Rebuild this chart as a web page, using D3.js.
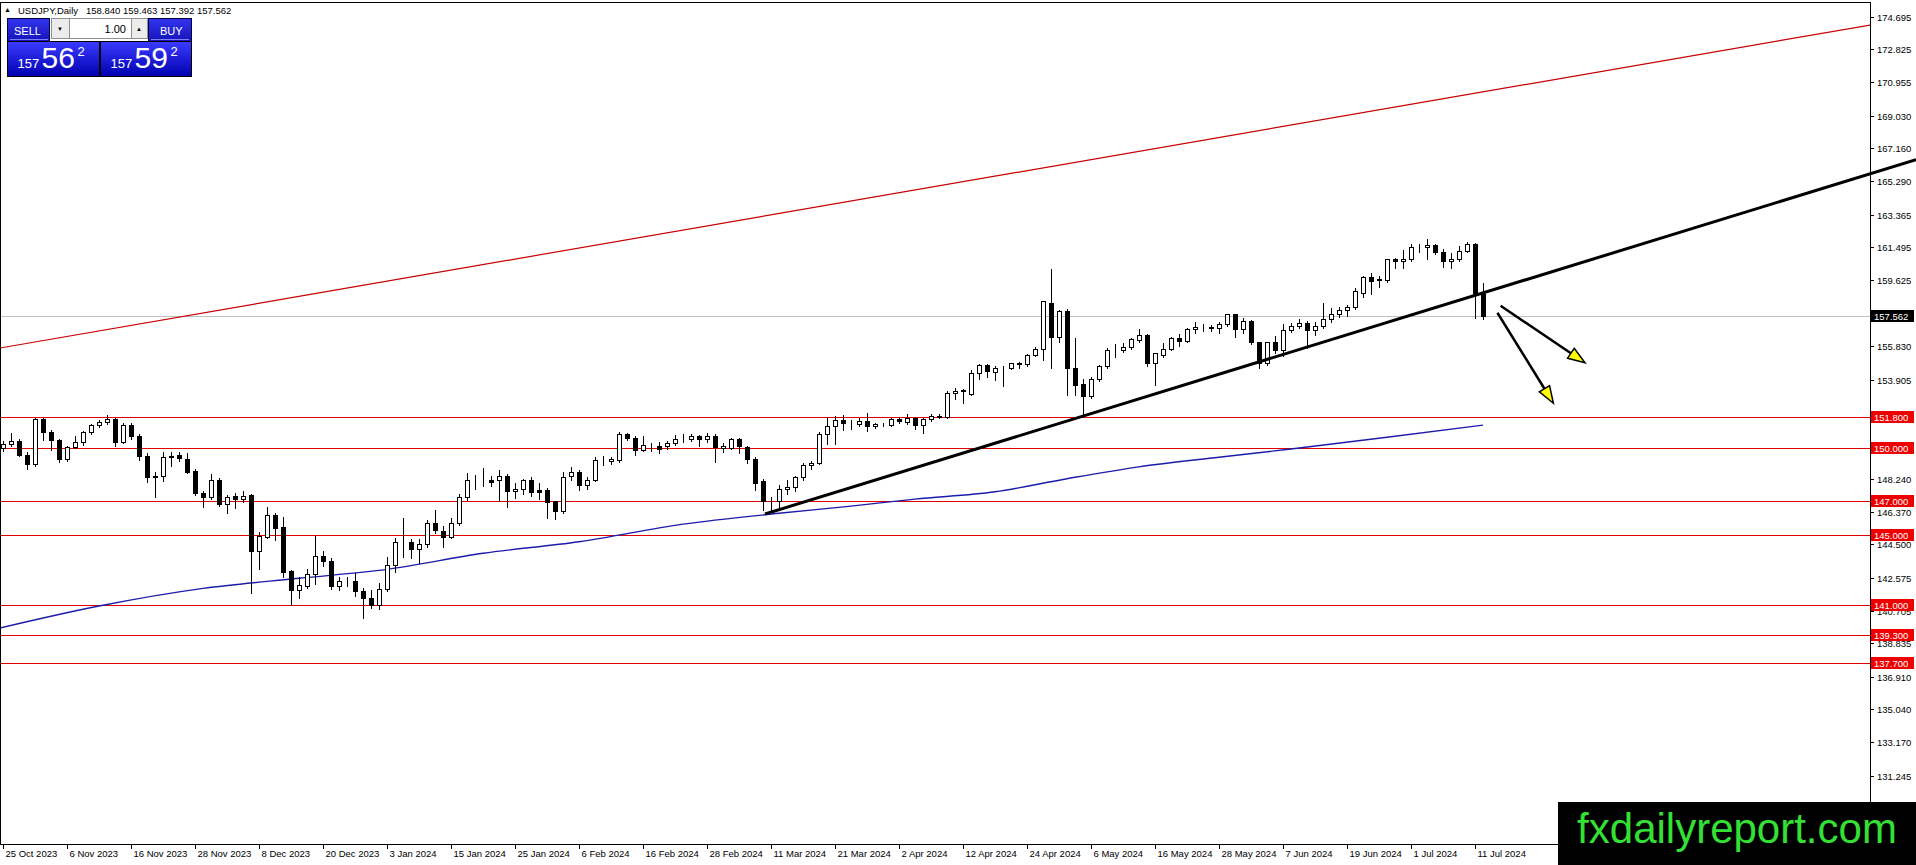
<!DOCTYPE html>
<html>
<head>
<meta charset="utf-8">
<title>USDJPY Daily</title>
<script src="https://cdn.jsdelivr.net/npm/d3@7"></script>
<style>
body { margin: 0; background: #fff; overflow: hidden; }
svg { display: block; }
text { font-family: "Liberation Sans", Arial, sans-serif; }
</style>
</head>
<body>
<div id="chart"></div>
<script>
// ---- data ----
var symbol = "USDJPY,Daily"
var lastOHLC = ["158.840", "159.463", "157.392", "157.562"]

// one x label every 8 bars, first one on bar 0
var tickLabels = ["25 Oct 2023","6 Nov 2023","16 Nov 2023","28 Nov 2023","8 Dec 2023","20 Dec 2023",
  "3 Jan 2024","15 Jan 2024","25 Jan 2024","6 Feb 2024","16 Feb 2024","28 Feb 2024","11 Mar 2024",
  "21 Mar 2024","2 Apr 2024","12 Apr 2024","24 Apr 2024","6 May 2024","16 May 2024","28 May 2024",
  "7 Jun 2024","19 Jun 2024","1 Jul 2024","11 Jul 2024"]
var tickEvery = 8

var opens = [150.00,150.22,150.40,149.60,149.08,151.68,150.95,150.45,149.40,150.08,
  150.35,150.95,151.35,151.50,151.66,150.35,151.35,150.70,149.55,148.35,
  148.38,149.50,149.60,149.40,148.70,147.45,147.20,148.20,146.80,147.25,
  147.10,147.30,144.10,144.90,146.20,145.50,142.95,141.90,142.10,142.80,
  143.80,143.55,142.10,142.38,142.40,141.85,141.40,141.00,141.95,143.30,
  144.60,144.65,144.25,144.50,145.70,145.28,144.90,145.70,147.20,148.15,
  148.15,148.15,148.15,148.40,147.55,147.65,148.15,147.60,147.60,146.95,
  146.40,148.40,148.65,147.90,148.20,149.30,149.25,149.30,150.80,150.60,
  149.90,150.15,150.15,150.10,150.30,150.50,150.50,150.70,150.50,150.70,
  150.00,150.00,150.50,150.05,149.40,148.10,147.00,146.95,147.65,147.75,
  148.35,149.05,149.15,150.80,151.25,151.60,151.45,151.40,151.55,151.25,
  151.40,151.30,151.65,151.50,151.70,151.30,151.65,151.85,151.80,153.15,
  153.25,153.10,154.30,154.75,154.35,154.60,154.60,154.85,154.80,155.35,
  155.65,158.30,156.35,157.85,154.60,153.65,153.00,153.95,154.70,155.60,
  155.60,155.80,156.20,156.45,154.90,155.35,155.65,156.30,156.15,156.80,
  156.95,156.95,156.90,157.10,157.65,156.80,157.30,156.05,154.90,156.10,
  155.60,156.75,157.00,157.15,156.75,157.00,157.40,157.70,157.90,158.10,
  158.90,159.77,159.70,159.60,160.80,160.70,160.80,161.50,161.50,161.60,
  161.25,160.73,160.85,161.30,161.70,158.84]
var highs = [150.40,150.85,150.55,149.75,151.72,151.74,151.05,150.50,150.15,150.70,
  151.00,151.40,151.60,151.91,151.72,151.43,151.45,150.80,149.70,148.65,
  149.75,149.75,149.75,149.72,148.80,147.55,148.52,148.30,147.30,147.42,
  147.55,147.40,145.20,146.62,146.30,146.05,143.00,142.65,143.10,144.95,
  144.10,143.70,142.65,142.65,142.85,142.00,141.90,142.30,143.78,144.85,
  146.00,144.80,144.78,145.88,146.45,145.55,146.02,147.37,148.55,148.45,
  148.85,148.40,148.75,148.50,147.99,148.25,148.33,148.00,147.70,147.00,
  148.65,148.90,148.75,148.33,149.51,149.55,149.50,150.91,150.88,150.70,
  150.70,150.28,150.37,150.40,150.75,150.81,150.80,150.75,150.85,150.80,
  150.30,150.60,150.56,150.15,149.50,148.25,147.20,147.90,148.17,148.38,
  149.15,149.25,150.95,151.80,151.85,151.90,151.60,151.70,151.99,151.45,
  151.45,151.75,151.80,151.95,151.80,151.75,151.95,151.95,153.25,153.42,
  153.40,154.45,154.80,154.80,154.70,154.70,154.90,154.95,155.40,155.80,
  158.45,160.25,157.90,157.95,156.29,153.95,154.09,154.75,155.71,155.94,
  156.00,156.30,156.80,156.55,155.45,156.00,156.35,156.55,156.85,157.20,
  157.10,157.05,157.24,157.70,157.70,157.43,157.35,156.10,156.10,156.42,
  157.10,157.18,157.40,157.30,157.24,158.30,158.00,158.06,158.20,159.15,
  159.85,160.00,159.85,160.85,160.87,161.34,161.70,161.68,161.95,161.70,
  161.38,161.15,161.57,161.82,161.75,159.463]
var lows = [149.85,150.15,149.55,148.80,149.00,150.45,149.90,149.20,149.25,150.00,
  150.20,150.80,151.20,151.40,150.15,150.30,150.55,149.30,148.08,147.20,
  148.10,148.95,149.25,148.55,147.30,146.65,147.10,146.70,146.27,146.60,
  146.93,141.70,143.10,144.84,144.75,142.65,141.00,141.45,142.00,142.25,
  143.25,141.95,141.90,142.10,141.55,140.25,140.83,140.80,141.80,142.93,
  143.75,143.70,143.45,144.35,145.13,144.36,144.85,145.60,147.05,147.65,
  147.83,147.83,146.98,146.65,147.13,147.40,147.26,147.10,146.00,145.93,
  146.27,148.20,147.60,147.65,148.10,149.03,149.10,149.20,150.46,149.60,
  149.85,149.85,149.70,149.95,150.20,150.33,150.40,150.12,150.37,149.20,
  149.80,149.95,149.70,149.15,147.60,146.48,146.45,146.65,147.40,147.55,
  148.20,148.80,149.10,150.26,150.25,151.03,151.10,151.25,151.00,151.15,
  151.25,151.25,151.45,151.40,151.10,150.85,151.55,151.70,151.70,152.80,
  152.60,153.05,153.95,154.10,153.90,153.55,154.55,154.60,154.70,155.25,
  155.05,154.57,156.09,153.04,153.04,151.86,152.85,153.85,154.60,155.20,
  155.52,155.70,156.10,154.70,153.60,155.20,155.60,155.85,156.05,156.57,
  156.72,156.70,156.60,157.00,156.38,156.57,155.95,154.57,154.75,155.43,
  155.25,156.66,156.90,155.75,156.48,156.90,157.20,157.52,157.58,157.95,
  158.67,158.82,159.24,159.50,160.30,160.30,160.70,161.25,160.80,161.10,
  160.35,160.30,160.73,161.20,157.44,157.392]
var closes = [150.25,150.40,149.62,149.08,151.68,150.95,150.45,149.40,150.08,150.35,
  150.95,151.35,151.52,151.66,150.35,151.35,150.70,149.55,148.35,148.38,
  149.50,149.55,149.45,148.65,147.45,147.20,148.20,146.80,147.20,147.10,
  147.25,144.10,144.95,146.15,145.45,142.90,141.90,142.15,142.80,143.85,
  143.55,142.10,142.40,142.42,141.85,141.40,141.00,141.95,143.30,144.60,
  144.65,144.25,144.50,145.70,145.30,144.90,145.70,147.20,148.15,148.15,
  148.15,148.05,148.40,147.55,147.65,148.15,147.50,147.50,146.90,146.40,
  148.35,148.65,147.90,148.20,149.30,149.30,149.40,150.80,150.60,149.90,
  150.20,150.15,149.95,150.30,150.55,150.50,150.70,150.50,150.70,150.05,
  150.10,150.50,150.10,149.40,148.00,147.00,146.95,147.65,147.75,148.35,
  149.05,149.15,150.80,151.25,151.60,151.45,151.45,151.55,151.25,151.40,
  151.40,151.65,151.55,151.70,151.30,151.65,151.85,151.80,153.15,153.25,
  153.30,154.30,154.75,154.40,154.60,154.60,154.85,154.80,155.35,155.65,
  158.40,156.35,157.85,154.60,153.60,153.00,153.95,154.70,155.60,155.60,
  155.80,156.25,156.45,154.90,155.42,155.65,156.30,156.15,156.80,156.95,
  156.95,156.90,157.10,157.65,156.80,157.30,156.05,154.90,156.10,155.60,
  156.75,157.00,157.15,156.75,157.00,157.40,157.70,157.90,158.10,158.98,
  159.77,159.58,159.60,160.80,160.70,160.85,161.50,161.50,161.60,161.25,
  160.73,160.85,161.30,161.70,158.86,157.562]

// moving average (blue) at these bars
var maBars = [-0.4, 12, 25, 37, 48, 60, 72, 85, 97, 106, 114, 124, 133, 142, 152, 161, 173, 185]
var maValues = [139.70, 140.96, 141.97, 142.55, 143.06, 143.98, 144.64, 145.65, 146.27, 146.68, 147.08, 147.50, 148.25, 148.93, 149.48, 149.95, 150.62, 151.32]

// horizontal support levels (red) and the current bid
var levels = [151.8, 150.0, 147.0, 145.0, 141.0, 139.3, 137.7]
var bid = 157.562

// price scale labels that are visible in the picture
var priceTicks = [174.695, 172.825, 170.955, 169.030, 167.160, 165.290, 163.365, 161.495, 159.625,
  155.830, 153.905, 152.035, 148.240, 146.370, 144.500, 142.575, 140.705, 138.835,
  136.910, 135.040, 133.170, 131.245]

// drawn objects, anchored in (bar, price)
var trendBars = [95.25, 135.04], trendPrices = [146.23, 151.84]
var channelBars = [-0.375, 233.4], channelPrices = [155.73, 174.22]
var arrowFromBars = [187.2, 186.8], arrowFromPrices = [158.15, 157.75]
var arrowToBars = [197.75, 193.8], arrowToPrices = [154.89, 152.57]

// ---- layout ----
const W = 1916, H = 865
const plotRight = 1870, plotTop = 3, plotBottom = 844

var svg = d3.select("#chart").append("svg")
  .attr("width", W).attr("height", H)
  .style("background", "#fff")

var x = d3.scaleLinear().domain([0, 185]).range([3, 1483])
var y = d3.scaleLinear().domain([127.34, 175.48]).range([plotBottom, plotTop])
var crisp = v => Math.round(v) + 0.5

svg.append("clipPath").attr("id", "plot")
  .append("rect").attr("x", 0).attr("y", plotTop).attr("width", plotRight).attr("height", plotBottom - plotTop)

var plot = svg.append("g").attr("clip-path", "url(#plot)")

// bid line
plot.append("line")
  .attr("x1", 0).attr("x2", plotRight)
  .attr("y1", crisp(y(bid))).attr("y2", crisp(y(bid)))
  .style("stroke", "#c0c0c0")

// red horizontals
plot.selectAll(".level").data(levels).enter().append("line")
  .attr("class", "level")
  .attr("x1", 0).attr("x2", plotRight)
  .attr("y1", d => crisp(y(d))).attr("y2", d => crisp(y(d)))
  .style("stroke", "#e00000").style("stroke-width", "1px")

// upper channel line
plot.append("line")
  .attr("x1", x(channelBars[0])).attr("y1", y(channelPrices[0]))
  .attr("x2", x(channelBars[1])).attr("y2", y(channelPrices[1]))
  .style("stroke", "#c80000").style("stroke-width", "1.2px")

// moving average
plot.append("path")
  .datum(maBars.map((b, i) => [b, maValues[i]]))
  .attr("d", d3.line().curve(d3.curveMonotoneX).x(d => x(d[0])).y(d => y(d[1])))
  .style("fill", "none").style("stroke", "#1c1cab").style("stroke-width", "1.4px")

// candles
var idx = d3.range(opens.length)
plot.selectAll(".wick").data(idx).enter().append("line")
  .attr("class", "wick")
  .attr("x1", i => crisp(x(i))).attr("x2", i => crisp(x(i)))
  .attr("y1", i => Math.round(y(highs[i]))).attr("y2", i => Math.round(y(lows[i])) + 1)
  .style("stroke", "black")

plot.selectAll(".body").data(idx).enter().append("rect")
  .attr("class", "body")
  .attr("x", i => Math.round(x(i)) - 1.5)
  .attr("y", i => Math.round(y(Math.max(opens[i], closes[i]))) + 0.5)
  .attr("width", 4)
  .attr("height", i => Math.max(0, Math.round(y(Math.min(opens[i], closes[i]))) - Math.round(y(Math.max(opens[i], closes[i])))))
  .style("fill", i => closes[i] < opens[i] ? "black" : "white")
  .style("stroke", "black").style("stroke-width", "1px")

// x axis
var xg = svg.append("g")
tickLabels.forEach(function (t, k) {
  var px = crisp(x(k * tickEvery))
  xg.append("line").attr("x1", px).attr("x2", px).attr("y1", plotBottom).attr("y2", plotBottom + 5)
    .style("stroke", "black")
  xg.append("text").attr("x", px + 2).attr("y", 857).text(t)
    .style("font-size", "9.5px").style("fill", "black")
})

// y axis
var yg = svg.append("g")
priceTicks.forEach(function (p) {
  var py = crisp(y(p))
  yg.append("line").attr("x1", plotRight).attr("x2", plotRight + 4).attr("y1", py).attr("y2", py)
    .style("stroke", "black")
  yg.append("text").attr("x", plotRight + 7).attr("y", py + 3.5).text(p.toFixed(3))
    .style("font-size", "9.5px").style("fill", "black")
})

// frame
svg.append("rect")
  .attr("x", 0.5).attr("y", plotTop - 0.5)
  .attr("width", plotRight).attr("height", plotBottom - plotTop + 1)
  .style("fill", "none").style("stroke", "black")

// price tags on the scale
function tag(p, color) {
  var py = y(p)
  svg.append("rect").attr("x", plotRight + 1).attr("y", Math.round(py) - 6)
    .attr("width", 43).attr("height", 12).style("fill", color)
  svg.append("text").attr("x", plotRight + 4).attr("y", Math.round(py) + 3.5)
    .text(p.toFixed(3)).style("font-size", "9.5px").style("fill", "white")
}
levels.forEach(l => tag(l, "#ee0000"))
tag(bid, "black")

// main trend line, extended to the right edge of the window
var trSlope = (trendPrices[1] - trendPrices[0]) / (trendBars[1] - trendBars[0])
var endBar = x.invert(W)
svg.append("line")
  .attr("x1", x(trendBars[0])).attr("y1", y(trendPrices[0]))
  .attr("x2", W).attr("y2", y(trendPrices[0] + trSlope * (endBar - trendBars[0])))
  .style("stroke", "black").style("stroke-width", "3px")

// arrows
arrowFromBars.forEach(function (b, i) {
  var x1 = x(b), y1 = y(arrowFromPrices[i])
  var x2 = x(arrowToBars[i]), y2 = y(arrowToPrices[i])
  var a = Math.atan2(y2 - y1, x2 - x1)
  var len = 17, half = 6
  var bx = x2 - len * Math.cos(a), by = y2 - len * Math.sin(a)
  svg.append("line").attr("x1", x1).attr("y1", y1).attr("x2", bx).attr("y2", by)
    .style("stroke", "black").style("stroke-width", "2.5px")
  var pts = [[x2, y2],
    [bx - half * Math.sin(a), by + half * Math.cos(a)],
    [bx + half * Math.sin(a), by - half * Math.cos(a)]]
  svg.append("polygon").attr("points", pts.map(p => p.join(",")).join(" "))
    .style("fill", "#ffff00").style("stroke", "black").style("stroke-width", "1.5px")
})

// header
svg.append("text").attr("x", 4).attr("y", 12).text("\u25B2").style("font-size", "7px")
svg.append("text").attr("x", 18).attr("y", 13.5).text(symbol).style("font-size", "9.5px")
svg.append("text").attr("x", 86).attr("y", 13.5).text(lastOHLC.join(" ")).style("font-size", "9.5px")

// one-click trading panel
var defs = svg.append("defs")
var g1 = defs.append("linearGradient").attr("id", "blueBig").attr("x1", 0).attr("y1", 0).attr("x2", 0).attr("y2", 1)
g1.append("stop").attr("offset", "0%").attr("stop-color", "#3b3bff")
g1.append("stop").attr("offset", "100%").attr("stop-color", "#0000b0")
var g2 = defs.append("linearGradient").attr("id", "blueHead").attr("x1", 0).attr("y1", 0).attr("x2", 0).attr("y2", 1)
g2.append("stop").attr("offset", "0%").attr("stop-color", "#3434f0")
g2.append("stop").attr("offset", "100%").attr("stop-color", "#1414b8")

var panel = svg.append("g")
panel.append("rect").attr("x", 7.5).attr("y", 18.5).attr("width", 42).attr("height", 23)
  .style("fill", "url(#blueHead)").style("stroke", "#000040")
panel.append("rect").attr("x", 148.5).attr("y", 18.5).attr("width", 43).attr("height", 23)
  .style("fill", "url(#blueHead)").style("stroke", "#000040")
panel.append("line").attr("x1", 10).attr("x2", 48).attr("y1", 39.5).attr("y2", 39.5).style("stroke", "#8080ff")
panel.append("line").attr("x1", 151).attr("x2", 189).attr("y1", 39.5).attr("y2", 39.5).style("stroke", "#8080ff")
panel.append("text").attr("x", 14).attr("y", 35).text("SELL").style("fill", "white").style("font-size", "11px")
panel.append("text").attr("x", 160).attr("y", 35).text("BUY").style("fill", "white").style("font-size", "11px")

panel.append("rect").attr("x", 51.5).attr("y", 18.5).attr("width", 18).attr("height", 20)
  .style("fill", "#ececec").style("stroke", "#909090")
panel.append("rect").attr("x", 69.5).attr("y", 18.5).attr("width", 62).attr("height", 20)
  .style("fill", "white").style("stroke", "#909090")
panel.append("rect").attr("x", 131.5).attr("y", 18.5).attr("width", 16).attr("height", 20)
  .style("fill", "#ececec").style("stroke", "#909090")
panel.append("text").attr("x", 57).attr("y", 31).text("\u25BC").style("font-size", "6px")
panel.append("text").attr("x", 136).attr("y", 31).text("\u25B2").style("font-size", "6px")
panel.append("text").attr("x", 126).attr("y", 33).attr("text-anchor", "end").text("1.00").style("font-size", "11px")

var quotes = [["157", "56", "2"], ["157", "59", "2"]]
var boxX = [7.5, 100.5], boxW = [92, 91]
quotes.forEach(function (q, i) {
  var bx = boxX[i]
  panel.append("rect").attr("x", bx).attr("y", 41.5).attr("width", boxW[i]).attr("height", 35)
    .style("fill", "url(#blueBig)").style("stroke", "black")
  panel.append("text").attr("x", bx + 10).attr("y", 68).text(q[0]).style("fill", "white").style("font-size", "13px")
  panel.append("text").attr("x", bx + 34).attr("y", 68).text(q[1]).style("fill", "white").style("font-size", "30px")
  panel.append("text").attr("x", bx + 70).attr("y", 56).text(q[2]).style("fill", "white").style("font-size", "13px")
})

// watermark
svg.append("rect").attr("x", 1558).attr("y", 802).attr("width", W - 1558).attr("height", H - 802)
  .style("fill", "black")
svg.append("text").attr("x", 1737).attr("y", 843).attr("text-anchor", "middle")
  .text("fxdailyreport.com").style("font-size", "42px").style("fill", "#33e033")
</script>
</body>
</html>
